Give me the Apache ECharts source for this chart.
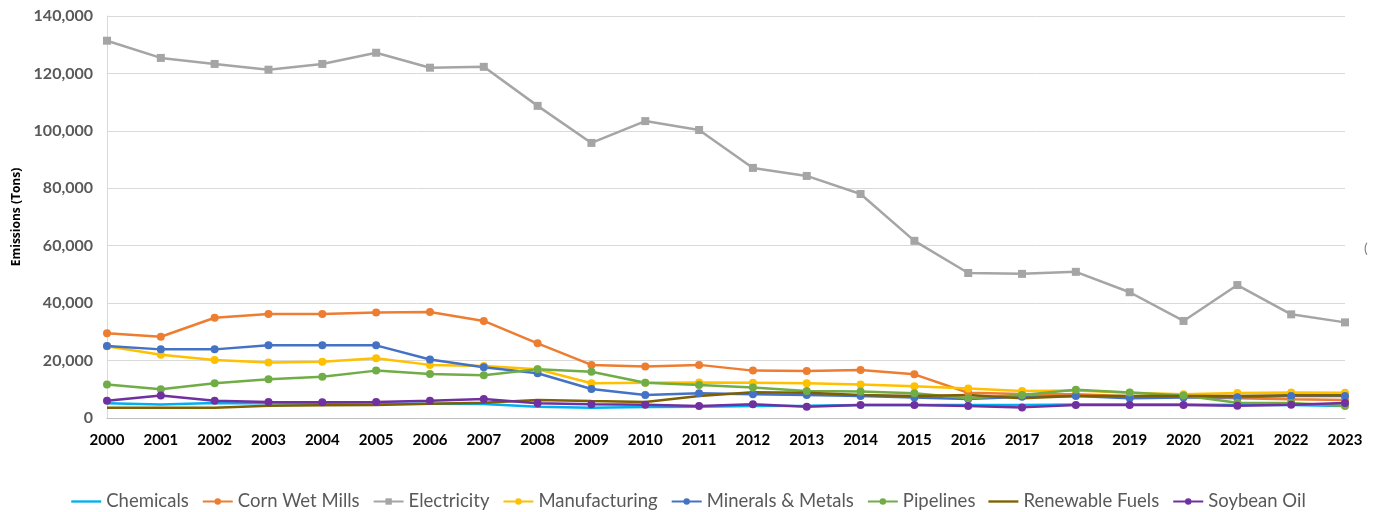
<!DOCTYPE html>
<html>
<head>
<meta charset="utf-8">
<script src="https://cdn.jsdelivr.net/npm/echarts@6/dist/echarts.min.js"></script>
<style>
  html, body { margin: 0; padding: 0; background: #fff; }
  #emissions-by-sector { width: 1377px; height: 512px; }
</style>
</head>
<body>
<div id="emissions-by-sector"></div>
<script>
const years = ['2000', '2001', '2002', '2003', '2004', '2005', '2006', '2007', '2008', '2009', '2010', '2011',
  '2012', '2013', '2014', '2015', '2016', '2017', '2018', '2019', '2020', '2021', '2022', '2023'];

const chemicals = [5100, 4700, 5200, 5100, 5000, 5000, 5000, 4900, 3900, 3600, 3800, 3900,
  4200, 4300, 4500, 4500, 4500, 4500, 4700, 4700, 4700, 4500, 4500, 4200];
const cornWetMills = [29500, 28300, 34900, 36200, 36200, 36700, 36900, 33800, 26000, 18500, 17900, 18500,
  16500, 16400, 16700, 15200, 8800, 8400, 8300, 7600, 7300, 6900, 6500, 6300];
const electricity = [131400, 125400, 123300, 121300, 123300, 127200, 122000, 122300, 108700, 95800, 103400, 100300,
  87100, 84300, 78000, 61700, 50500, 50200, 50900, 43800, 33800, 46300, 36100, 33300];
const manufacturing = [25000, 22000, 20200, 19300, 19600, 20800, 18500, 18100, 17000, 12100, 12300, 12400,
  12300, 12100, 11700, 11100, 10300, 9400, 9600, 8800, 8300, 8700, 8900, 8800];
const mineralsMetals = [25100, 23900, 23900, 25300, 25300, 25300, 20400, 17700, 15600, 10100, 8000, 8600,
  8300, 8000, 7700, 7100, 6600, 7400, 7700, 6900, 7100, 7200, 7700, 7700];
const pipelines = [11700, 10000, 12100, 13500, 14400, 16500, 15300, 14900, 17000, 16100, 12300, 11500,
  10600, 9400, 9200, 8600, 6900, 8000, 9800, 8900, 7800, 5300, 5200, 4200];
const renewableFuels = [3600, 3600, 3600, 4300, 4400, 4500, 5000, 5300, 6300, 5900, 5600, 7700,
  9000, 8800, 8000, 7700, 8000, 6900, 7700, 7700, 7700, 7700, 7900, 7900];
const soybeanOil = [6000, 7800, 6000, 5600, 5500, 5600, 6000, 6600, 5100, 4800, 4600, 4200,
  4800, 3900, 4500, 4500, 4200, 3700, 4500, 4500, 4500, 4300, 4600, 5200];

const yTicks = [0, 20000, 40000, 60000, 80000, 100000, 120000, 140000];

const seriesDefs = [
  {name: 'Chemicals', data: chemicals, color: '#00B0F0', symbol: 'none'},
  {name: 'Corn Wet Mills', data: cornWetMills, color: '#ED7D31', symbol: 'circle'},
  {name: 'Electricity', data: electricity, color: '#A5A5A5', symbol: 'rect'},
  {name: 'Manufacturing', data: manufacturing, color: '#FFC000', symbol: 'circle'},
  {name: 'Minerals & Metals', data: mineralsMetals, color: '#4472C4', symbol: 'circle'},
  {name: 'Pipelines', data: pipelines, color: '#70AD47', symbol: 'circle'},
  {name: 'Renewable Fuels', data: renewableFuels, color: '#7F6000', symbol: 'none'},
  {name: 'Soybean Oil', data: soybeanOil, color: '#7030A0', symbol: 'circle'},
];

// 无标记的系列在图例里只画一条线
const lineOnlyIcon = 'path://M0,0 L32,0 L32,2.5 L0,2.5 Z';

const myChart = echarts.init(document.getElementById('emissions-by-sector'));
const option = {
  animation: false,
  textStyle: {fontFamily: 'Lato'},
  grid: {
    left: 107,
    right: 32,
    top: 16,
    bottom: 94,
  },
  legend: {
    bottom: -4,
    left: 'center',
    itemWidth: 30,
    itemHeight: 8,
    itemGap: 13,
    textStyle: {color: '#595959', fontSize: 18.5, fontFamily: 'Lato'},
    data: seriesDefs.map(s => s.symbol === 'none'
      ? {name: s.name, icon: lineOnlyIcon}
      : {name: s.name}),
  },
  xAxis: {
    type: 'category',
    boundaryGap: false,
    data: years,
    axisLine: {lineStyle: {color: '#BFBFBF', width: 1}},
    axisTick: {show: false},
    axisLabel: {color: '#000', fontWeight: 'bold', fontSize: 15, margin: 15},
  },
  yAxis: {
    type: 'value',
    min: yTicks[0],
    max: yTicks[yTicks.length - 1],
    interval: yTicks[1] - yTicks[0],
    name: 'Emissions (Tons)',
    nameLocation: 'middle',
    nameGap: 81,
    nameRotate: 90,
    nameTextStyle: {color: '#000', fontWeight: 'bold', fontSize: 12, fontFamily: 'Open Sans'},
    axisLine: {show: true, lineStyle: {color: '#D9D9D9'}},
    axisTick: {show: false},
    axisLabel: {
      color: '#595959',
      fontWeight: 'bold',
      fontSize: 16,
      margin: 14,
      formatter: (value) => value.toLocaleString('en-US'),
    },
    splitLine: {lineStyle: {color: '#D9D9D9', width: 1}},
  },
  series: seriesDefs.map(s => ({
    name: s.name,
    type: 'line',
    data: s.data,
    symbol: s.symbol,
    symbolSize: 8,
    showSymbol: s.symbol !== 'none',
    itemStyle: {color: s.color},
    lineStyle: {color: s.color, width: 2.5},
  })),
  graphic: [
    {
      type: 'text',
      left: 1364,
      top: 241,
      style: {text: '(', fill: '#7F7F7F', font: '14px Lato'},
    },
  ],
};
myChart.setOption(option);
</script>
</body>
</html>
